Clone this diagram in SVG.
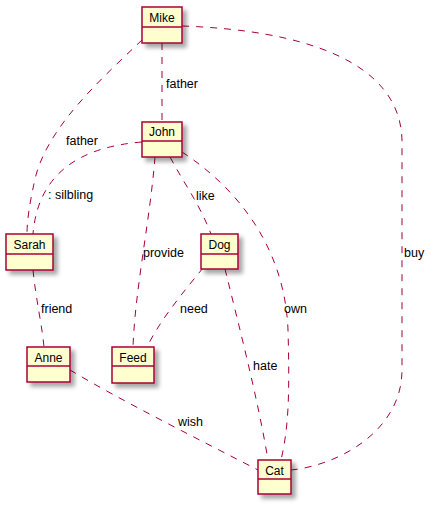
<svg xmlns="http://www.w3.org/2000/svg" width="435" height="505" viewBox="0 0 435 505">
<defs>
<filter id="sh" x="-30%" y="-30%" width="170%" height="170%">
<feDropShadow dx="4" dy="4" stdDeviation="2" flood-color="#000" flood-opacity="0.35"/>
</filter>
<style>
.box{fill:#FEFECE;stroke:#A80036;stroke-width:1.5;filter:url(#sh)}
.div{stroke:#A80036;stroke-width:1.5}
.nm{font-family:"Liberation Sans",Arial,sans-serif;font-size:12px;fill:#000;text-anchor:middle}
.e{fill:none;stroke:#A80036;stroke-width:1;stroke-dasharray:7,7}
.lb{font-family:"Liberation Sans",Arial,sans-serif;font-size:12.5px;fill:#000}
</style>
</defs>
<rect width="435" height="505" fill="#fff"/>
<g id="connectors">
<path class="e" d="M162,43 L162,122"/>
<text class="lb" x="166" y="88">father</text>
<path class="e" d="M142,40 C100,80 50,125 36,175 C30,200 27,220 27,234"/>
<text class="lb" x="66" y="145">father</text>
<path class="e" d="M142,142 Q40,150 33,234"/>
<text class="lb" x="48" y="199">: silbling</text>
<path class="e" d="M155,157 C150,220 135,290 133,347"/>
<text class="lb" x="143" y="257">provide</text>
<path class="e" d="M170,157 C185,185 200,205 211,234"/>
<text class="lb" x="196" y="200">like</text>
<path class="e" d="M182,152 C240,190 285,250 288,330 C290,400 288,430 281,460"/>
<text class="lb" x="284" y="313">own</text>
<path class="e" d="M182,26 C300,30 400,60 402,140 L402,370 C402,430 340,465 291,470"/>
<text class="lb" x="404" y="257">buy</text>
<path class="e" d="M33,270 C36,300 42,325 44,347"/>
<text class="lb" x="41" y="313">friend</text>
<path class="e" d="M203,268 C185,290 160,320 147,347"/>
<text class="lb" x="180" y="313">need</text>
<path class="e" d="M225,269 C240,330 258,400 268,460"/>
<text class="lb" x="253" y="370">hate</text>
<path class="e" d="M70,370 C120,400 200,440 258,470"/>
<text class="lb" x="178" y="426">wish</text>
</g>
<g id="Mike"><rect class="box" x="142" y="7" width="40" height="36"/><line class="div" x1="142" y1="27" x2="182" y2="27"/><text class="nm" x="162" y="22">Mike</text></g>
<g id="John"><rect class="box" x="142" y="122" width="40" height="35"/><line class="div" x1="142" y1="141" x2="182" y2="141"/><text class="nm" x="162" y="136">John</text></g>
<g id="Sarah"><rect class="box" x="6" y="234" width="47" height="36"/><line class="div" x1="6" y1="254" x2="53" y2="254"/><text class="nm" x="29.5" y="249">Sarah</text></g>
<g id="Dog"><rect class="box" x="201" y="234" width="37" height="35"/><line class="div" x1="201" y1="254" x2="238" y2="254"/><text class="nm" x="219.5" y="249">Dog</text></g>
<g id="Feed"><rect class="box" x="112" y="347" width="42" height="36"/><line class="div" x1="112" y1="366" x2="154" y2="366"/><text class="nm" x="133" y="362">Feed</text></g>
<g id="Anne"><rect class="box" x="27" y="347" width="43" height="35"/><line class="div" x1="27" y1="366" x2="70" y2="366"/><text class="nm" x="48.5" y="362">Anne</text></g>
<g id="Cat"><rect class="box" x="258" y="460" width="33" height="34"/><line class="div" x1="258" y1="479" x2="291" y2="479"/><text class="nm" x="274.5" y="475">Cat</text></g>
</svg>
